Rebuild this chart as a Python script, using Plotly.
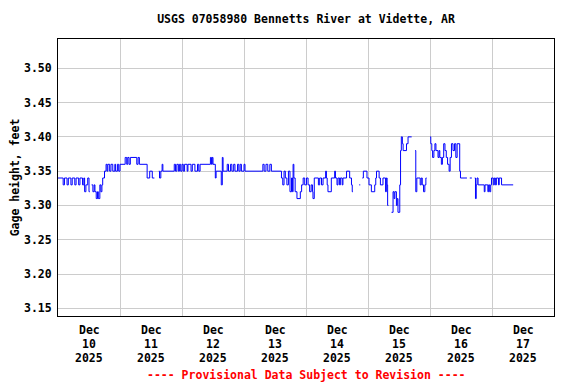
import pandas as pd
import plotly.graph_objects as go

# ---- data (hours after 2025-12-10 00:00, gage height in feet; None = gap) ----
start = "2025-12-10 00:00"
hours = [
    0.0, 2.0, 2.5, 3.5, 4.0, 5.0, 5.5, 6.5, 7.0, 8.0, 8.5, 9.5, 10.0, 10.3, 10.8, 11.5, 12.0, 12.3, 12.4,
    13.0, 13.5, 14.0, 14.3, 14.8, 15.3, 15.6, 16.2, 16.6, 17.0, 17.3, 18.0, 18.6, 19.0, 19.3, 20.0, 20.5,
    21.2, 22.0, 22.3, 23.0, 23.5, 24.0, 26.0, 26.6, 27.0, 27.5, 28.0, 30.5, 31.0, 31.5, 34.5, 35.5, 36.5,
    37.3, 37.4, 39.0, 39.3, 39.8, 40.3, 40.6, 45.0, 45.5, 46.0, 46.6, 47.0, 47.5, 48.0, 48.5, 49.0, 50.0,
    50.3, 51.5, 52.0, 53.0, 54.0, 54.5, 55.0, 59.0, 59.4, 59.7, 60.0, 60.9, 61.2, 63.2, 63.6, 63.9, 65.5,
    66.0, 66.8, 67.3, 68.0, 68.5, 69.5, 70.0, 70.5, 71.0, 72.0, 72.4, 79.3, 79.8, 80.5, 81.2, 82.0, 82.6,
    86.5, 87.0, 87.5, 88.0, 88.6, 89.2, 89.8, 90.4, 90.8, 91.0, 91.3, 91.8, 92.5, 93.8, 94.3, 94.9, 95.5,
    96.2, 96.8, 97.4, 98.0, 98.5, 98.7, 99.2, 100.8, 101.3, 102.0, 102.6, 103.6, 103.9, 104.2, 104.5,
    105.8, 107.1, 107.4, 108.0, 108.4, 109.0, 109.3, 110.0, 110.3, 111.7, 112.9, 113.6, 113.9, 114.2,
    114.3, 116.6, 117.0, 117.1, 117.8, 118.2, 119.6, 120.4, 121.3, 122.6, 123.0, 123.3, 124.3, 124.8,
    125.8, 126.8, 127.1, 127.4, 127.6, 127.9, 128.0, 129.1, 129.7, 130.1, 130.4, 131.0, 131.3, 131.6,
    132.3, 132.6, 132.9, 133.3, 133.6, 134.9, 135.5, 136.9, 137.0, 138.2, 138.5, 138.9, 140.2, 140.6,
    141.0, 141.5, 142.0, 142.4, 142.7, 142.8, 144.0, 144.3, 144.7, 145.0, 145.5, 145.9, 146.3, 147.1,
    147.5, 147.8, 148.4, 148.8, 149.3, 149.8, 150.3, 150.8, 151.4, 151.8, 152.3, 152.9, 153.5, 154.0,
    154.5, 155.5, 155.8, 158.3, 158.4, 159.4, 160.2, 160.3, 161.3, 161.6, 161.9, 162.2, 162.6, 165.0,
    165.3, 166.4, 166.7, 167.1, 167.5, 167.8, 168.5, 168.9, 169.3, 169.7, 170.5, 170.8, 171.7, 176.2,
]
gage_ft = [
    3.34, 3.33, 3.34, 3.33, 3.34, 3.33, 3.34, 3.33, 3.34, 3.33, 3.34, 3.33, 3.34, 3.32, 3.33, 3.34, 3.32, 3.32, None,
    3.33, 3.32, 3.33, 3.32, 3.31, 3.32, 3.31, 3.33, 3.32, 3.33, 3.34, 3.35, 3.36, 3.35, 3.36, 3.35, 3.36,
    3.35, 3.36, 3.35, 3.36, 3.35, 3.36, 3.37, 3.36, 3.37, 3.36, 3.37, 3.36, 3.37, 3.36, 3.34, 3.35, 3.34,
    3.34, None, 3.35, 3.34, 3.35, 3.36, 3.35, 3.36, 3.35, 3.36, 3.35, 3.36, 3.35, 3.36, 3.35, 3.36, 3.35,
    3.36, 3.35, 3.36, 3.35, 3.36, 3.35, 3.36, 3.37, 3.36, 3.37, 3.36, 3.34, 3.35, 3.33, 3.37, 3.35, 3.36,
    3.35, 3.36, 3.35, 3.36, 3.35, 3.36, 3.35, 3.36, 3.35, 3.36, 3.35, 3.36, 3.35, 3.36, 3.35, 3.36, 3.35,
    3.34, 3.33, 3.35, 3.34, 3.33, 3.35, 3.32, 3.34, 3.32, 3.36, 3.34, 3.32, 3.31, 3.32, 3.33, 3.34, 3.33,
    3.34, 3.33, 3.32, 3.33, 3.32, 3.31, 3.34, 3.33, 3.34, 3.33, 3.34, 3.35, 3.34, 3.33, 3.32,
    3.34, 3.35, 3.34, 3.33, 3.34, 3.33, 3.34, 3.33, 3.34, 3.35, 3.34, 3.33, 3.32, 3.32,
    None, 3.33, 3.33, None, 3.34, 3.35, 3.34, 3.33, 3.32, 3.33, 3.34, 3.35, 3.34, 3.33,
    3.34, 3.32, 3.34, 3.33, 3.30, 3.30, None, 3.29, 3.32, 3.31, 3.32, 3.30, 3.31, 3.29,
    3.33, 3.38, 3.40, 3.39, 3.38, 3.39, 3.40, 3.40, None, 3.38, 3.32, 3.34, 3.33, 3.34,
    3.33, 3.32, 3.33, 3.34, 3.34, None, 3.40, 3.39, 3.38, 3.37, 3.38, 3.39, 3.38, 3.37,
    3.38, 3.37, 3.36, 3.37, 3.39, 3.38, 3.37, 3.36, 3.35, 3.37, 3.39, 3.38, 3.39, 3.37,
    3.39, 3.35, 3.34, 3.34, None, 3.34, 3.34, None, 3.34, 3.31, 3.33, 3.34, 3.33, 3.32,
    3.33, 3.32, 3.33, 3.32, 3.33, 3.34, 3.33, 3.34, 3.33, 3.34, 3.33, 3.34, 3.33, 3.33,
]

day_starts = ["2025-12-10", "2025-12-11", "2025-12-12", "2025-12-13",
              "2025-12-14", "2025-12-15", "2025-12-16", "2025-12-17", "2025-12-18"]
label_pos = ["2025-12-10 12:00", "2025-12-11 12:00", "2025-12-12 12:00", "2025-12-13 12:00",
             "2025-12-14 12:00", "2025-12-15 12:00", "2025-12-16 12:00", "2025-12-17 12:00"]
label_month = ["Dec", "Dec", "Dec", "Dec", "Dec", "Dec", "Dec", "Dec"]
label_day = ["10", "11", "12", "13", "14", "15", "16", "17"]
label_year = ["2025", "2025", "2025", "2025", "2025", "2025", "2025", "2025"]
y_ticks = [3.15, 3.20, 3.25, 3.30, 3.35, 3.40, 3.45, 3.50]
y_text = ["3.15", "3.20", "3.25", "3.30", "3.35", "3.40", "3.45", "3.50"]

times = pd.Timestamp(start) + pd.to_timedelta(hours, unit="h")

FONT = "DejaVu Sans Mono"
fs = 11.5
PLOT_H = 277  # plot area height in px

fig = go.Figure()
fig.add_trace(go.Scatter(
    x=times, y=gage_ft, mode="lines", line=dict(color="#0000ff", width=1, shape="hv"),
    connectgaps=False, hoverinfo="x+y", showlegend=False,
))

annotations = []
for rows_dy, row in ((13.5, label_month), (27.5, label_day), (41.5, label_year)):
    for pos, txt in zip(label_pos, row):
        annotations.append(dict(
            text=txt, x=pos, xref="x", y=-rows_dy / PLOT_H, yref="paper",
            xanchor="center", yanchor="middle", showarrow=False,
            font=dict(family=FONT, size=fs, color="black", weight="bold"),
        ))
annotations.append(dict(
    text="---- Provisional Data Subject to Revision ----",
    xref="paper", yref="paper", x=0.5, y=-59 / PLOT_H, xanchor="center", yanchor="middle",
    showarrow=False, font=dict(family=FONT, size=fs, color="#ff0000", weight="bold"),
))

fig.update_layout(
    width=568, height=376,
    margin=dict(l=50, r=22, t=31, b=68),
    paper_bgcolor="white", plot_bgcolor="white",
    font=dict(family=FONT, size=fs, color="black", weight="bold"),
    title=dict(text="USGS 07058980 Bennetts River at Vidette, AR",
               x=0.5, xref="paper", xanchor="center",
               y=1 - 11 / 376, yanchor="middle", yref="container",
               font=dict(family=FONT, size=fs, color="black", weight="bold")),
    xaxis=dict(
        range=[day_starts[0], day_starts[-1]],
        tickmode="array", tickvals=day_starts, showticklabels=False,
        showgrid=True, gridcolor="#cccccc", gridwidth=1, ticks="",
        showline=True, mirror=True, linecolor="black", linewidth=1,
        zeroline=False, automargin=False,
    ),
    yaxis=dict(
        range=[3.1388, 3.5427],
        tickmode="array", tickvals=y_ticks, ticktext=y_text,
        showgrid=True, gridcolor="#cccccc", gridwidth=1, ticks="", ticklabelstandoff=3,
        showline=True, mirror=True, linecolor="black", linewidth=1,
        zeroline=False, automargin=False,
        title=dict(text="Gage height, feet", standoff=2,
                   font=dict(family=FONT, size=fs, color="black", weight="bold")),
        tickfont=dict(family=FONT, size=fs, color="black", weight="bold"),
    ),
    annotations=annotations,
)

fig.write_html("out.html")
